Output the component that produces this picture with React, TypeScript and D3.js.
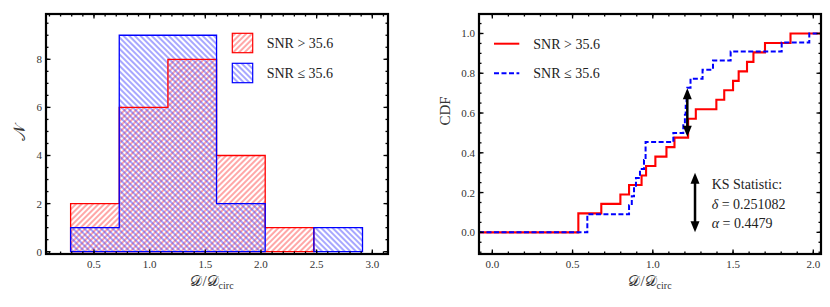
import React, { useEffect, useRef } from "react";
import * as d3 from "d3";

// histogram bins (shared edges) and counts per SNR group
const binEdges = [0.29, 0.727, 1.164, 1.601, 2.038, 2.475, 2.912];
const highCounts = [2, 6, 8, 4, 1, 0];
const lowCounts = [1, 9, 9, 2, 0, 1];

// sorted D/Dcirc values
const highValues = [
  0.536, 0.536, 0.679, 0.798, 0.852, 0.93, 0.958, 1.016, 1.085, 1.135, 1.22,
  1.22, 1.268, 1.396, 1.445, 1.5, 1.535, 1.587, 1.627, 1.699, 1.858,
];
const lowValues = [
  0.592, 0.592, 0.852, 0.869, 0.883, 0.895, 0.92, 0.945, 0.955, 0.955, 1.128,
  1.19, 1.2, 1.205, 1.21, 1.215, 1.235, 1.31, 1.375, 1.485, 1.803, 1.975,
];

const histXTicks = [0.5, 1.0, 1.5, 2.0, 2.5, 3.0];
const histYTicks = [0, 2, 4, 6, 8];
const cdfXTicks = [0, 0.5, 1.0, 1.5, 2.0];
const cdfYTicks = [0, 0.2, 0.4, 0.6, 0.8, 1.0];

const ksArrows = [
  { x: 1.215, y0: 0.481, y1: 0.725 },
  { x: 1.263, y0: 0.0, y1: 0.3 },
];
const ksLines = [
  { sym: "", rest: "KS Statistic:" },
  { sym: "δ", rest: " = 0.251082" },
  { sym: "α", rest: " = 0.4479" },
];
const legendLabels = ["SNR > 35.6", "SNR ≤ 35.6"];

const RED = "#ff0000";
const BLUE = "#0000ff";
const FONT = "'Liberation Serif', 'DejaVu Serif', serif";

const App = () => {
  const svgRef = useRef(null);

  const drawFrame = (
    g: any,
    x: any,
    y: any,
    xMaj: number[],
    xMin: number[],
    yMaj: number[],
    yMin: number[],
    fmtX: (d: number) => string,
    fmtY: (d: number) => string
  ) => {
    const [x0, x1] = x.range();
    const [y0, y1] = y.range();
    const tick = (arr: number[], len: number) => {
      arr.forEach((v) => {
        const px = x(v);
        if (px > x0 + 1 && px < x1 - 1) {
          g.append("line").attr("x1", px).attr("x2", px).attr("y1", y0).attr("y2", y0 - len)
            .attr("stroke", "#000").attr("stroke-width", 1.3);
          g.append("line").attr("x1", px).attr("x2", px).attr("y1", y1).attr("y2", y1 + len)
            .attr("stroke", "#000").attr("stroke-width", 1.3);
        }
      });
    };
    const tickY = (arr: number[], len: number) => {
      arr.forEach((v) => {
        const py = y(v);
        if (py < y0 - 1 && py > y1 + 1) {
          g.append("line").attr("x1", x0).attr("x2", x0 + len).attr("y1", py).attr("y2", py)
            .attr("stroke", "#000").attr("stroke-width", 1.3);
          g.append("line").attr("x1", x1).attr("x2", x1 - len).attr("y1", py).attr("y2", py)
            .attr("stroke", "#000").attr("stroke-width", 1.3);
        }
      });
    };
    tick(xMin, 2.5);
    tick(xMaj, 4.5);
    tickY(yMin, 2.5);
    tickY(yMaj, 4.5);

    g.append("rect")
      .attr("x", x0).attr("y", y1)
      .attr("width", x1 - x0).attr("height", y0 - y1)
      .attr("fill", "none").attr("stroke", "#000").attr("stroke-width", 2.2);

    g.selectAll(".xl").data(xMaj).enter().append("text")
      .attr("x", (d: number) => x(d)).attr("y", 268)
      .attr("text-anchor", "middle").style("font-family", FONT).style("font-size", "11px")
      .attr("fill", "#333").text(fmtX);
    g.selectAll(".yl").data(yMaj).enter().append("text")
      .attr("x", x0 - 4).attr("y", (d: number) => y(d) + 4)
      .attr("text-anchor", "end").style("font-family", FONT).style("font-size", "11px")
      .attr("fill", "#333").text(fmtY);
  };

  const xLabel = (g: any, cx: number) => {
    const t = g.append("text").attr("x", cx).attr("y", 286).attr("text-anchor", "middle")
      .style("font-family", FONT).style("font-size", "15px").attr("fill", "#333");
    t.append("tspan").text("𝒟/𝒟");
    t.append("tspan").attr("dy", 3).style("font-size", "10px").text("circ");
  };

  const makeChart = () => {
    const svg = d3.select(svgRef.current);
    svg.selectAll("*").remove();

    // hatch patterns: vertical lines rotated, "/" for red and "\" for blue
    const defs = svg.append("defs");
    const pat = (id: string, color: string, angle: number) =>
      defs.append("pattern").attr("id", id).attr("patternUnits", "userSpaceOnUse")
        .attr("width", 4).attr("height", 4).attr("patternTransform", `rotate(${angle})`)
        .append("line").attr("x1", 2).attr("x2", 2).attr("y1", -1).attr("y2", 5)
        .attr("stroke", color).attr("stroke-width", 0.9);
    pat("hatchRed", "#ff3b3b", 45);
    pat("hatchBlue", "#3b3bff", -45);

    // ---------- histogram ----------
    const hx = d3.scaleLinear().domain([0.069, 3.141]).range([46, 388]);
    const hy = d3.scaleLinear().domain([-0.096, 9.884]).range([254, 14]);
    const hg = svg.append("g");

    const barData = (counts: number[]) => counts.map((c, i) => ({ c, i })).filter((d) => d.c > 0);
    const bars = (counts: number[], fill: string) =>
      hg.append("g").selectAll("rect").data(barData(counts))
        .enter().append("rect")
        .attr("x", (d: any) => hx(binEdges[d.i]))
        .attr("width", (d: any) => hx(binEdges[d.i + 1]) - hx(binEdges[d.i]))
        .attr("y", (d: any) => hy(d.c))
        .attr("height", (d: any) => hy(0) - hy(d.c))
        .attr("fill", fill);

    // outline of each run of non-empty bins
    const outline = (counts: number[]) => {
      let d = "";
      let open = false;
      counts.forEach((c, i) => {
        if (c > 0) {
          if (!open) {
            d += `M${hx(binEdges[i])},${hy(0)}`;
            open = true;
          }
          d += `V${hy(c)}H${hx(binEdges[i + 1])}`;
        }
        if (open && (c === 0 || i === counts.length - 1)) {
          d += `V${hy(0)}Z`;
          open = false;
        }
      });
      return d;
    };
    bars(highCounts, "url(#hatchRed)");
    bars(lowCounts, "url(#hatchBlue)");
    hg.append("path").attr("d", outline(highCounts)).attr("fill", "none")
      .attr("stroke", RED).attr("stroke-width", 1.3);
    hg.append("path").attr("d", outline(lowCounts)).attr("fill", "none")
      .attr("stroke", BLUE).attr("stroke-width", 1.3);

    drawFrame(
      hg, hx, hy, histXTicks, d3.range(0.1, 3.15, 0.1), histYTicks, d3.range(0, 10, 0.5),
      (d) => d3.format(".1f")(d), (d) => String(d)
    );

    [["url(#hatchRed)", RED], ["url(#hatchBlue)", BLUE]].forEach(([fill, col], i) => {
      hg.append("rect").attr("x", 232.3).attr("y", 33.3 + i * 30).attr("width", 20.4).attr("height", 19.4)
        .attr("fill", fill).attr("stroke", col).attr("stroke-width", 1.2);
      hg.append("text").attr("x", 266.7).attr("y", 47.7 + i * 30)
        .style("font-family", FONT).style("font-size", "14px").attr("fill", "#222").text(legendLabels[i]);
    });

    hg.append("text").attr("transform", "translate(25,133) rotate(-90)").attr("text-anchor", "middle")
      .style("font-family", FONT).style("font-size", "17px")
      .attr("fill", "#333").text("𝒩");
    xLabel(hg, 212);

    // ---------- CDF ----------
    const cx = d3.scaleLinear().domain([-0.083, 2.048]).range([479, 821]);
    const cy = d3.scaleLinear().domain([-0.109, 1.098]).range([254, 14]);
    const cg = svg.append("g");

    const stepLine = d3.line<[number, number]>()
      .x((d) => cx(d[0])).y((d) => cy(d[1])).curve(d3.curveStepAfter);
    const cdfPoints = (vals: number[]): [number, number][] => {
      const pts: [number, number][] = [[cx.domain()[0], 0]];
      vals.forEach((v, i) => pts.push([v, (i + 1) / vals.length]));
      pts.push([cx.domain()[1], 1]);
      return pts;
    };
    cg.append("path").attr("d", stepLine(cdfPoints(highValues)))
      .attr("fill", "none").attr("stroke", RED).attr("stroke-width", 2.1);
    cg.append("path").attr("d", stepLine(cdfPoints(lowValues)))
      .attr("fill", "none").attr("stroke", BLUE).attr("stroke-width", 2).attr("stroke-dasharray", "5,2.5");

    ksArrows.forEach((a) => {
      const px = cx(a.x);
      const top = cy(a.y1);
      const bot = cy(a.y0);
      cg.append("line").attr("x1", px).attr("x2", px).attr("y1", top + 8).attr("y2", bot - 8)
        .attr("stroke", "#000").attr("stroke-width", 2.5);
      cg.append("path").attr("d", `M${px},${top} L${px - 4.5},${top + 11} L${px + 4.5},${top + 11} Z`).attr("fill", "#000");
      cg.append("path").attr("d", `M${px},${bot} L${px - 4.5},${bot - 11} L${px + 4.5},${bot - 11} Z`).attr("fill", "#000");
    });

    ksLines.forEach((l, i) => {
      const t = cg.append("text").attr("x", 711.7).attr("y", 189.3 + i * 19.5)
        .style("font-family", FONT).style("font-size", "14px").attr("fill", "#222");
      if (l.sym) t.append("tspan").style("font-style", "italic").text(l.sym);
      t.append("tspan").text(l.rest);
    });

    drawFrame(
      cg, cx, cy, cdfXTicks, d3.range(0, 2.05, 0.1), cdfYTicks, d3.range(-0.1, 1.1, 0.05),
      (d) => d3.format(".1f")(d), (d) => d3.format(".1f")(d)
    );

    [[RED, null], [BLUE, "5,2.5"]].forEach(([col, dash], i) => {
      const ln = cg.append("line").attr("x1", 494).attr("x2", 519.3)
        .attr("y1", 43.7 + i * 29.6).attr("y2", 43.7 + i * 29.6)
        .attr("stroke", col as string).attr("stroke-width", 2);
      if (dash) ln.attr("stroke-dasharray", dash as string);
      cg.append("text").attr("x", 533.3).attr("y", 48.5 + i * 29.6)
        .style("font-family", FONT).style("font-size", "14px").attr("fill", "#222").text(legendLabels[i]);
    });

    cg.append("text").attr("transform", "translate(450,111) rotate(-90)").attr("text-anchor", "middle")
      .style("font-family", FONT).style("font-size", "15px").attr("fill", "#333").text("CDF");
    xLabel(cg, 650);
  };

  useEffect(() => {
    makeChart();
  }, []);

  return (
    <svg
      ref={svgRef}
      width={830}
      height={307}
      style={{ position: "absolute", left: 0, top: 0, background: "#fff" }}
    />
  );
};

export default App;
